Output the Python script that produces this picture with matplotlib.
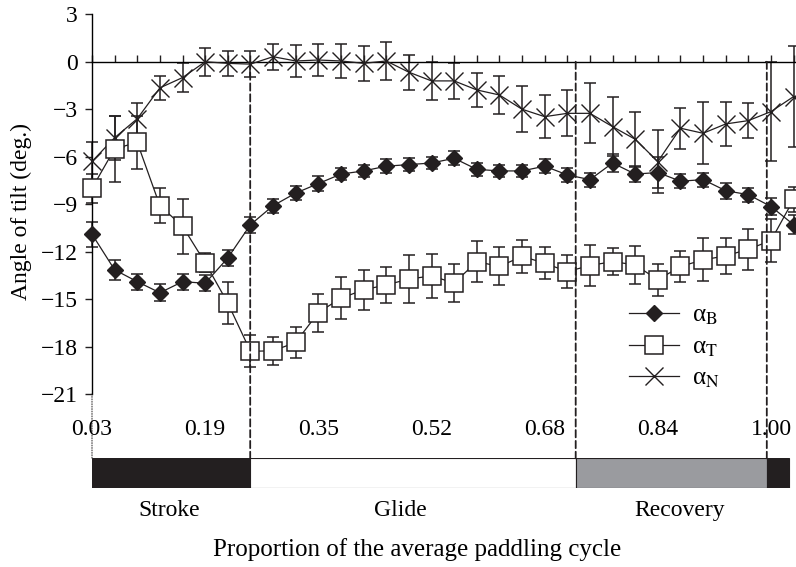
import matplotlib.pyplot as plt
import numpy as np
from matplotlib.patches import ConnectionPatch

plt.rcParams['font.family'] = 'Liberation Serif'
plt.rcParams['mathtext.fontset'] = 'stix'
plt.rcParams['font.size'] = 17

INK = '#231f20'
GREY = '#9a9b9f'

# 32 samples over the paddling cycle, one per tick on the zero line
cycle = 0.03 + np.arange(32) * 0.97 / 30
tick_labels = ['0.03', '0.19', '0.35', '0.52', '0.68', '0.84', '1.00']

# angles of tilt (deg.) and their standard deviations
alpha_B = [-10.9, -13.15, -13.9, -14.6, -13.9, -14.0, -12.4, -10.3,
           -9.1, -8.3, -7.7, -7.1, -6.9, -6.6, -6.5, -6.4,
           -6.1, -6.8, -6.9, -6.9, -6.6, -7.15, -7.45, -6.4,
           -7.1, -7.0, -7.55, -7.45, -8.15, -8.4, -9.15, -10.3]
err_B = [0.8, 0.65, 0.5, 0.55, 0.5, 0.5, 0.5, 0.5,
         0.45, 0.45, 0.45, 0.4, 0.4, 0.45, 0.4, 0.4,
         0.45, 0.4, 0.4, 0.4, 0.45, 0.45, 0.45, 0.55,
         0.5, 1.0, 0.45, 0.45, 0.5, 0.45, 0.55, 0.6]

alpha_T = [-8.0, -5.5, -5.1, -9.1, -10.4, -12.7, -15.25, -18.3,
           -18.27, -17.74, -15.85, -14.94, -14.42, -14.1, -13.74, -13.53,
           -13.99, -12.63, -12.94, -12.3, -12.73, -13.26, -12.88, -12.63,
           -12.84, -13.78, -12.94, -12.52, -12.27, -11.85, -11.3, -8.7]
err_T = [0.9, 2.1, 1.65, 1.1, 1.75, 0.6, 1.35, 1.0,
         0.9, 1.0, 1.2, 1.35, 1.25, 1.15, 1.5, 1.4,
         1.2, 1.3, 1.2, 1.05, 1.0, 1.05, 1.3, 0.85,
         1.2, 1.0, 1.0, 1.35, 1.15, 1.3, 1.35, 0.8]

alpha_N = [-6.3, -4.8, -3.6, -1.65, -1.0, 0.0, -0.1, -0.15,
           0.32, 0.05, 0.11, 0.05, -0.1, 0.05, -0.66, -1.21,
           -1.21, -1.78, -2.1, -3.0, -3.47, -3.26, -3.26, -4.1,
           -4.9, -6.31, -4.2, -4.52, -3.93, -3.72, -3.15, -2.2]
err_N = [1.2, 1.4, 1.0, 0.75, 0.9, 0.9, 0.8, 0.8,
         0.82, 1.0, 1.0, 1.05, 1.1, 1.2, 1.1, 1.2,
         1.15, 1.1, 1.2, 1.45, 1.35, 1.45, 1.9, 1.85,
         1.75, 2.0, 1.3, 1.95, 1.4, 1.1, 3.15, 3.2]

# phases of the cycle: stroke / glide / recovery / next stroke
phase_edges = [0.03, 0.256, 0.721, 0.994, 1.026]
phase_colors = [INK, 'white', GREY, INK]
phase_names = ['Stroke', 'Glide', 'Recovery']
phase_label_x = [0.14, 0.47, 0.87]

W, H = 796, 567
fig = plt.figure(figsize=(W / 100, H / 100), dpi=100)
ax = fig.add_axes([92 / W, 173 / H, 704 / W, 379.7 / H])
xlim = (0.03, 0.03 + 704 / 700)
ax.set_xlim(*xlim)
ax.set_ylim(-21, 3)

for s in ['top', 'right']:
    ax.spines[s].set_visible(False)
ax.spines['bottom'].set_position(('data', 0))
ax.spines['bottom'].set_linewidth(1.0)
ax.spines['left'].set_linewidth(1.0)
ax.set_xticks(cycle)
ax.tick_params(axis='x', direction='in', length=5, width=1, labelbottom=False, color=INK)
ax.set_yticks(np.arange(-21, 4, 3))
ax.tick_params(axis='y', direction='out', length=5, width=1, pad=5, color=INK)

sec = ax.secondary_xaxis('bottom')
sec.set_xticks(cycle[::5][:len(tick_labels)], labels=tick_labels)
sec.spines['bottom'].set_visible(False)
sec.tick_params(length=0, pad=18)

for vals, errs in [(alpha_N, err_N), (alpha_T, err_T), (alpha_B, err_B)]:
    ax.errorbar(cycle, vals, yerr=errs, fmt='none', ecolor=INK, elinewidth=1.1,
                capsize=4.5, capthick=1.1, zorder=2, clip_on=False)

hN, = ax.plot(cycle, alpha_N, color=INK, lw=0.9, marker='x', ms=12.5, mew=1.0,
              zorder=3, clip_on=False, label=r'α$_{\mathrm{N}}$')
hT, = ax.plot(cycle, alpha_T, color=INK, lw=0.9, marker='s', ms=13, mfc='white',
              mec=INK, mew=1.1, zorder=4, clip_on=False, label=r'α$_{\mathrm{T}}$')
hB, = ax.plot(cycle, alpha_B, color=INK, lw=0.9, marker='D', ms=8.5, mfc=INK,
              mec=INK, zorder=5, clip_on=False, label=r'α$_{\mathrm{B}}$')

ax.legend(handles=[hB, hT, hN], loc='center left', bbox_to_anchor=(0.763, 0.123),
          frameon=False, borderpad=0, borderaxespad=0, handlelength=2.0,
          handletextpad=0.5, labelspacing=0.35, fontsize=18)

# phase bar under the plot
axb = fig.add_axes([92 / W, (H - 488.3) / H, 704 / W, 30 / H])
axb.set_xlim(*xlim)
axb.set_ylim(0, 1)
axb.axis('off')
for i, c in enumerate(phase_colors):
    axb.barh(0.5, phase_edges[i + 1] - phase_edges[i], left=phase_edges[i], height=1,
             color=c, edgecolor=INK, linewidth=0.8)
for name, x in zip(phase_names, phase_label_x):
    axb.text(x, -0.75, name, ha='center', va='center', fontsize=17)

# phase boundaries carried down from the zero line to the bar
for b in phase_edges[1:4]:
    con = ConnectionPatch(xyA=(b, 0), coordsA=ax.transData, xyB=(b, 1), coordsB=axb.transData,
                          linestyle=(0, (4, 2)), color=INK, lw=1.3)
    fig.add_artist(con)
con = ConnectionPatch(xyA=(phase_edges[0], -21), coordsA=ax.transData,
                      xyB=(phase_edges[0], 1), coordsB=axb.transData,
                      linestyle=(0, (1, 1.5)), color=INK, lw=0.7)
fig.add_artist(con)

fig.text(417.5 / W, 1 - 550 / H, 'Proportion of the average paddling cycle',
         ha='center', va='center', fontsize=18)
fig.text(21.7 / W, 1 - 211.7 / H, 'Angle of tilt (deg.)', rotation=90,
         ha='center', va='center', fontsize=17)

fig.savefig('out.png', dpi=100)
